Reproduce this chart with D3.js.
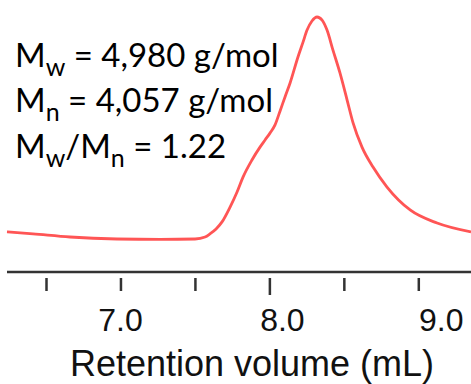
<!DOCTYPE html>
<html>
<head>
<meta charset="utf-8">
<script src="https://cdn.jsdelivr.net/npm/d3@7"></script>
<style>
html,body{margin:0;padding:0;background:#fff;}
svg{display:block;}
</style>
</head>
<body>
<svg id="chart" width="471" height="384"></svg>
<script>
// Retention volume (mL)
const volume = [6.238, 6.413, 6.661, 6.977, 7.266, 7.501, 7.568, 7.601, 7.642, 7.682, 7.736, 7.783, 7.823, 7.883, 7.937, 7.971, 8.004, 8.038, 8.072, 8.105, 8.139, 8.192, 8.226, 8.253, 8.286, 8.320, 8.354, 8.387, 8.427, 8.474, 8.522, 8.562, 8.622, 8.696, 8.790, 8.945, 9.126, 9.354];
// Normalized detector signal
const signal = [0.032, 0.023, 0.009, 0.000, -0.002, 0.000, 0.009, 0.023, 0.045, 0.077, 0.144, 0.212, 0.279, 0.356, 0.414, 0.446, 0.477, 0.514, 0.577, 0.640, 0.703, 0.820, 0.887, 0.941, 0.982, 1.000, 0.986, 0.941, 0.851, 0.748, 0.626, 0.523, 0.414, 0.324, 0.234, 0.131, 0.072, 0.032];
const tickValues = [6.5, 7.0, 7.5, 8.0, 8.5, 9.0];
const tickLabels = ["7.0", "8.0", "9.0"];
const labelValues = [7.0, 8.0, 9.0];
const annotations = [
  {main: "M", sub: "w", rest: " = 4,980 g/mol"},
  {main: "M", sub: "n", rest: " = 4,057 g/mol"},
  {main: "M", sub: "w", rest: "/M", sub2: "n", rest2: " = 1.22"}
];
const xTitle = "Retention volume (mL)";

// layout
const W = 471, H = 384;
const labelDx = [0, 13, 23];
const svg = d3.select("#chart");
svg.append("rect").attr("width", W).attr("height", H).attr("fill", "#fff");

const x = d3.scaleLinear().domain([6.5, 9.0]).range([46, 418.3]);
const y = d3.scaleLinear().domain([0, 1]).range([239, 17]);

// axis line
svg.append("line")
  .attr("x1", 7).attr("x2", W).attr("y1", 272).attr("y2", 272)
  .attr("stroke", "#333").attr("stroke-width", 2.5);

// ticks (detached from line)
const axis = d3.axisBottom(x).tickValues(tickValues).tickSize(13).tickFormat("");
const ag = svg.append("g").attr("transform", "translate(0,278)").call(axis);
ag.select(".domain").remove();
ag.selectAll(".tick line").attr("stroke", "#333").attr("stroke-width", 2.5);
ag.selectAll(".tick line").filter(d => d === 8.0).attr("y2", 17);

// tick labels
svg.selectAll("text.tl").data(labelValues).enter().append("text")
  .attr("class", "tl")
  .attr("x", (d, i) => x(d) + labelDx[i])
  .attr("y", 331)
  .attr("text-anchor", "middle")
  .attr("font-family", "Liberation Sans, Arial, sans-serif")
  .attr("font-size", 32)
  .attr("fill", "#111")
  .text((d, i) => tickLabels[i]);

// axis title
svg.append("text")
  .attr("x", 252).attr("y", 376)
  .attr("text-anchor", "middle")
  .attr("font-family", "Liberation Sans, Arial, sans-serif")
  .attr("font-size", 36)
  .attr("fill", "#111")
  .text(xTitle);

// curve
const pts = volume.map((v, i) => [v, signal[i]]);
const line = d3.line().x(d => x(d[0])).y(d => y(d[1])).curve(d3.curveMonotoneX);
svg.append("path").datum(pts)
  .attr("d", line)
  .attr("fill", "none")
  .attr("stroke", "#ff5555")
  .attr("stroke-width", 2.8)
  .attr("stroke-linejoin", "round");

// annotations
const fs = 33, subFs = 25, subDy = 9;
const baselines = [67, 112, 158];
annotations.forEach((a, i) => {
  const t = svg.append("text")
    .attr("x", 15).attr("y", baselines[i])
    .attr("font-family", "Lato, 'Open Sans', sans-serif")
    .attr("font-size", fs)
    .attr("fill", "#000");
  t.append("tspan").text(a.main);
  t.append("tspan").attr("font-size", subFs).attr("dy", subDy).text(a.sub);
  t.append("tspan").attr("dy", -subDy).text(a.rest);
  if (a.sub2) {
    t.append("tspan").attr("font-size", subFs).attr("dy", subDy).text(a.sub2);
    t.append("tspan").attr("dy", -subDy).text(a.rest2);
  }
});
</script>
</body>
</html>
